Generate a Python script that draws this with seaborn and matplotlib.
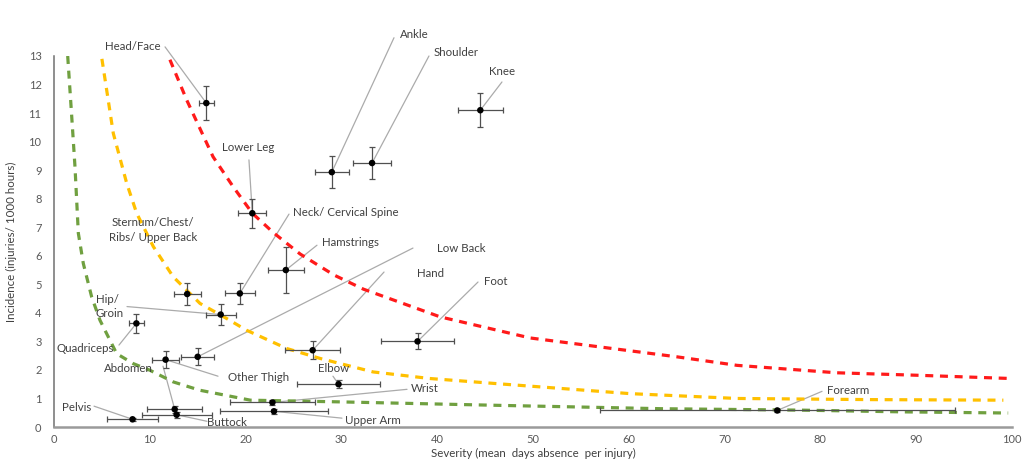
import numpy as np
import pandas as pd
import matplotlib
matplotlib.use("Agg")
import matplotlib.pyplot as plt
import seaborn as sns

### data

regions = ["Head/Face", "Ankle", "Shoulder", "Knee", "Lower Leg",
           "Neck/ Cervical Spine", "Sternum/Chest/\nRibs/ Upper Back",
           "Hamstrings", "Low Back", "Hand", "Foot", "Hip/\nGroin",
           "Quadriceps", "Abdomen", "Other Thigh", "Elbow", "Wrist",
           "Upper Arm", "Pelvis", "Buttock", "Forearm"]
severity = [15.9, 29.0, 33.2, 44.5, 20.7, 19.4, 13.9, 24.2, 15.0, 27.0, 37.95,
            17.4, 8.6, 12.6, 11.65, 29.7, 22.8, 22.96, 8.2, 12.8, 75.5]
incidence = [11.35, 8.93, 9.25, 11.1, 7.49, 4.68, 4.66, 5.5, 2.46, 2.69, 3.0,
             3.94, 3.63, 0.62, 2.36, 1.5, 0.86, 0.55, 0.27, 0.43, 0.58]
sev_err = [0.75, 1.8, 2.0, 2.35, 1.45, 1.6, 1.4, 1.85, 1.7, 2.9, 3.85,
           1.55, 0.75, 2.87, 1.4, 4.3, 4.45, 5.6, 2.7, 3.65, 18.5]
inc_err = [0.6, 0.55, 0.57, 0.6, 0.5, 0.38, 0.39, 0.8, 0.3, 0.32, 0.28,
           0.38, 0.32, 0.12, 0.3, 0.15, 0.08, 0.08, 0.05, 0.1, 0.05]

# dashed risk curves
red_x = [12.1, 13.85, 16.6, 18.7, 20.7, 22.9, 25.7, 29.2, 32.3, 40.3, 49.7, 65.0, 71.3, 81.7, 90.4, 99.8]
red_y = [12.87, 11.46, 9.47, 8.42, 7.49, 6.81, 6.06, 5.33, 4.83, 3.86, 3.12, 2.46, 2.16, 1.9, 1.81, 1.70]
yel_x = [5.0, 6.19, 7.59, 8.63, 10.37, 12.45, 15.24, 18.03, 20.1, 24.3, 27.8, 33.3, 39.2, 46.2, 60.1, 71.3, 85.2, 99.1]
yel_y = [12.9, 10.29, 8.54, 7.49, 6.32, 5.26, 4.33, 3.80, 3.39, 2.75, 2.4, 1.93, 1.70, 1.52, 1.17, 1.0, 0.96, 0.94]
grn_x = [1.43, 1.85, 2.19, 2.54, 3.06, 3.93, 4.8, 6.54, 8.28, 10.0, 12.45, 15.2, 20.5, 29.9, 46.2, 63.6, 78.2, 88.6, 99.6]
grn_y = [13.0, 10.88, 9.12, 6.79, 5.73, 4.56, 3.74, 2.57, 2.22, 1.99, 1.58, 1.29, 0.94, 0.88, 0.76, 0.64, 0.59, 0.53, 0.49]

# label layout: text x, text y, leader start x, leader start y (None = no leader)
label_pos = {
    "Head/Face": (11.17, 13.32, 11.59, 13.32),
    "Ankle": (36.12, 13.74, 35.49, 13.64),
    "Shoulder": (39.67, 13.11, 39.14, 13.0),
    "Knee": (45.41, 12.45, 46.76, 12.09),
    "Lower Leg": (17.54, 9.78, 20.35, 9.36),
    "Neck/ Cervical Spine": (24.95, 7.5, 24.53, 7.46),
    "Sternum/Chest/\nRibs/ Upper Back": (10.33, 6.9, None, None),
    "Hamstrings": (27.97, 6.48, 27.45, 6.37),
    "Low Back": (39.98, 6.27, 37.47, 6.27),
    "Hand": (37.89, 5.39, 34.45, 5.43),
    "Foot": (44.89, 5.11, 44.26, 5.08),
    "Hip/\nGroin": (4.38, 4.22, 7.62, 4.22),
    "Quadriceps": (0.31, 2.76, 6.78, 2.87),
    "Abdomen": (5.22, 2.06, 11.38, 2.13),
    "Other Thigh": (18.16, 1.74, 17.12, 1.78),
    "Elbow": (27.56, 2.06, 29.12, 1.78),
    "Wrist": (37.27, 1.36, 36.85, 1.32),
    "Upper Arm": (30.38, 0.24, 30.06, 0.31),
    "Pelvis": (0.84, 0.69, 4.18, 0.73),
    "Buttock": (15.97, 0.16, 15.97, 0.2),
    "Forearm": (80.69, 1.29, 80.17, 1.25),
}

df = pd.DataFrame({"region": regions, "severity": severity, "incidence": incidence,
                   "sev_err": sev_err, "inc_err": inc_err})

### plotting
sns.set_style("white")
plt.rcParams['font.family'] = ['Lato', 'DejaVu Sans']
text_col = '#404040'

fig = plt.figure(figsize=(10.25, 4.66), dpi=100)
ax = fig.add_axes([54/1025, 1-427/466, 958/1025, 371/466])

for cx, cy, col in [(red_x, red_y, '#ff1a1a'), (yel_x, yel_y, '#ffc000'), (grn_x, grn_y, '#70a040')]:
    sns.lineplot(x=cx, y=cy, color=col, lw=2.3, linestyle=(0, (2.5, 2.1)), sort=False, ax=ax, zorder=2)

# leader lines + labels
for _, r in df.iterrows():
    tx, ty, lx, ly = label_pos[r.region]
    if "\n" in r.region and lx is None:
        ax.text(tx, ty, r.region, ha='center', va='center', fontsize=8.3, color=text_col,
                linespacing=1.5)
    else:
        ax.text(tx, ty, r.region, ha='right' if r.region == "Head/Face" else 'left',
                va='center', fontsize=8.3, color=text_col, linespacing=1.3)
    if lx is not None:
        ax.plot([lx, r.severity], [ly, r.incidence], color='#ababab', lw=0.9,
                clip_on=False, zorder=1)

ax.errorbar(df.severity, df.incidence, xerr=df.sev_err, yerr=df.inc_err, fmt='none',
            ecolor='#505050', elinewidth=0.9, capsize=2.2, capthick=0.9, zorder=3)
sns.scatterplot(data=df, x='severity', y='incidence', color='black', s=22,
                edgecolor='none', ax=ax, zorder=4)

ax.set_xlim(0, 100)
ax.set_ylim(0, 13)
ax.set_xticks(range(0, 101, 10))
ax.set_yticks(range(0, 14))
ax.tick_params(length=0, labelsize=8, colors='#595959')
ax.tick_params(axis='y', pad=9)
ax.tick_params(axis='x', pad=5)
for s in ['top', 'right']:
    ax.spines[s].set_visible(False)
ax.spines['left'].set_color('#707070')
ax.spines['left'].set_linewidth(1.1)
ax.spines['bottom'].set_color('#9a9a9a')
ax.spines['bottom'].set_linewidth(1.8)

ax.set_xlabel('Severity (mean  days absence  per injury)', fontsize=8.3, color=text_col, labelpad=2)
ax.set_ylabel('Incidence (injuries/ 1000 hours)', fontsize=8.3, color=text_col, labelpad=8)

fig.savefig('out.png', dpi=100)
